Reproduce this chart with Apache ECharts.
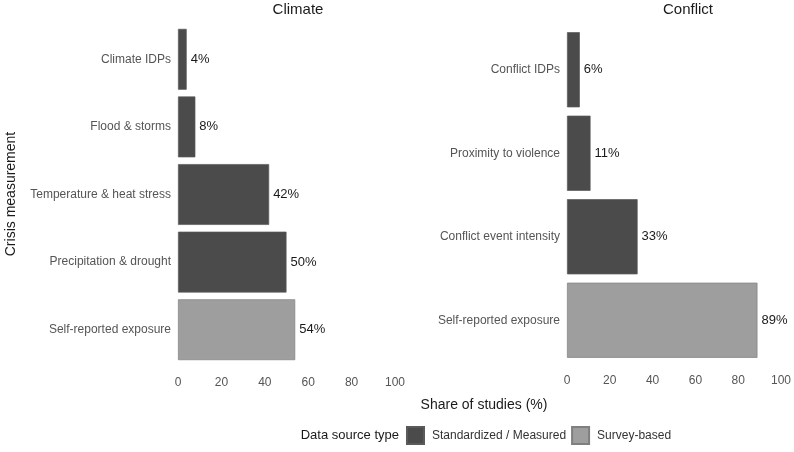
<!DOCTYPE html>
<html>
<head>
<meta charset="utf-8">
<script src="https://cdn.jsdelivr.net/npm/echarts@6/dist/echarts.min.js"></script>
<style>
  html, body { margin: 0; padding: 0; background: #fff; }
  #chart { width: 794px; height: 452px; }
</style>
</head>
<body>
<div id="chart"></div>
<script>
// categories listed bottom-to-top (category axis starts at the bottom)
const climateCats = ['Self-reported exposure', 'Precipitation & drought', 'Temperature & heat stress', 'Flood & storms', 'Climate IDPs'];
const climateMeasured = [null, 50, 42, 8, 4];
const climateSurvey = [54, null, null, null, null];

const conflictCats = ['Self-reported exposure', 'Conflict event intensity', 'Proximity to violence', 'Conflict IDPs'];
const conflictMeasured = [null, 33, 11, 6];
const conflictSurvey = [89, null, null, null];

const xTicks = [0, 20, 40, 60, 80, 100];

const DARK = '#4b4b4b';
const LIGHT = '#9e9e9e';
const FONT = '"Liberation Sans", Arial, sans-serif';

const chart = echarts.init(document.getElementById('chart'), null, { renderer: 'canvas' });

function xAxis(gridIndex) {
  return {
    type: 'value', gridIndex, min: 0, max: 100, interval: 20,
    axisLine: { show: false }, axisTick: { show: false }, splitLine: { show: false },
    axisLabel: { color: '#555', fontSize: 12, fontFamily: FONT, margin: 13,
      formatter: v => xTicks.includes(v) ? String(v) : '' }
  };
}
function yAxis(gridIndex, cats) {
  return {
    type: 'category', gridIndex, data: cats,
    axisLine: { show: false }, axisTick: { show: false }, splitLine: { show: false },
    axisLabel: { color: '#555', fontSize: 12, fontFamily: FONT, margin: 7 }
  };
}
const label = {
  show: true, position: 'right', distance: 4, color: '#1a1a1a', fontSize: 13, fontFamily: FONT,
  formatter: p => p.value + '%'
};
function bars(name, data, x, color, border) {
  return {
    name, type: 'bar', xAxisIndex: x, yAxisIndex: x, data,
    barWidth: '90%', barGap: '-100%',
    itemStyle: { color, borderColor: border, borderWidth: 0.7 },
    label, emphasis: { disabled: true }
  };
}

chart.setOption({
  animation: false,
  textStyle: { fontFamily: FONT },
  grid: [
    { left: 178, width: 217, top: 25.5, height: 338 },
    { left: 567, width: 218, top: 28, height: 334 }
  ],
  xAxis: [xAxis(0), xAxis(1)],
  yAxis: [yAxis(0, climateCats), yAxis(1, conflictCats)],
  legend: {
    left: 406, top: 426, padding: 0, itemWidth: 17, itemHeight: 17, itemGap: 5,
    icon: 'rect',
    textStyle: { color: '#333', fontSize: 12, fontFamily: FONT, padding: [0, 0, 0, 3] },
    data: ['Standardized / Measured', 'Survey-based']
  },
  series: [
    bars('Standardized / Measured', climateMeasured, 0, DARK, '#5a5a5a'),
    bars('Survey-based', climateSurvey, 0, LIGHT, '#7f7f7f'),
    bars('Standardized / Measured', conflictMeasured, 1, DARK, '#5a5a5a'),
    bars('Survey-based', conflictSurvey, 1, LIGHT, '#7f7f7f')
  ],
  graphic: [
    { type: 'text', x: 298, y: 10, style: { text: 'Climate', fill: '#1a1a1a', font: '15px ' + FONT, align: 'center', verticalAlign: 'middle' } },
    { type: 'text', x: 688, y: 10, style: { text: 'Conflict', fill: '#1a1a1a', font: '15px ' + FONT, align: 'center', verticalAlign: 'middle' } },
    { type: 'text', x: 11, y: 194, rotation: Math.PI / 2, style: { text: 'Crisis measurement', fill: '#1a1a1a', font: '14px ' + FONT, align: 'center', verticalAlign: 'middle' } },
    { type: 'text', x: 484, y: 405, style: { text: 'Share of studies (%)', fill: '#1a1a1a', font: '14px ' + FONT, align: 'center', verticalAlign: 'middle' } },
    { type: 'text', x: 399, y: 435, style: { text: 'Data source type', fill: '#1a1a1a', font: '13px ' + FONT, align: 'right', verticalAlign: 'middle' } }
  ]
});
</script>
</body>
</html>
